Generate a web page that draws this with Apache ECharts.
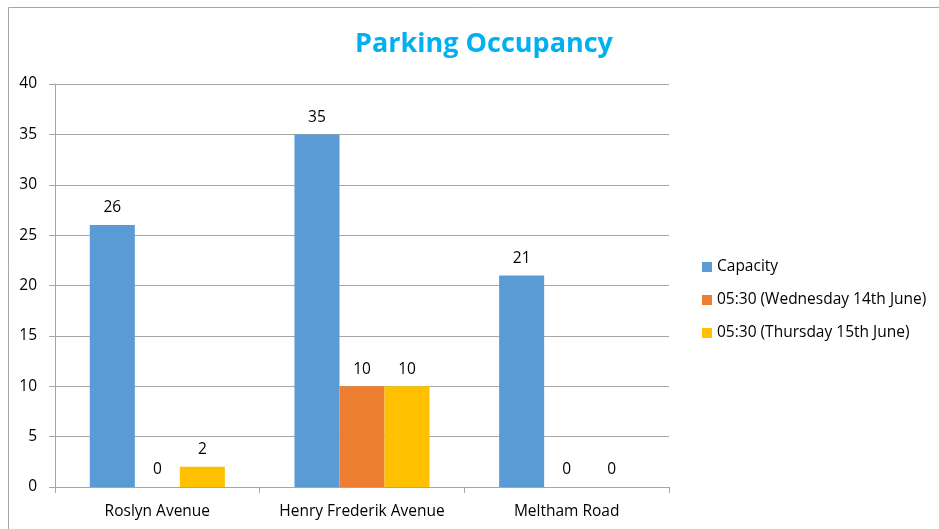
<!DOCTYPE html>
<html>
<head>
<meta charset="utf-8">
<script src="https://cdn.jsdelivr.net/npm/echarts@6/dist/echarts.min.js"></script>
<style>
  html, body { margin: 0; padding: 0; background: #fff; }
  #chart { width: 939px; height: 529px; }
</style>
</head>
<body>
<div id="chart"></div>
<script>
// Parking occupancy by street
const categories = ['Roslyn Avenue', 'Henry Frederik Avenue', 'Meltham Road'];
const seriesNames = ['Capacity', '05:30 (Wednesday 14th June)', '05:30 (Thursday 15th June)'];
const capacity = [26, 35, 21];
const wednesday = [0, 10, 0];
const thursday = [2, 10, 0];
const colors = ['#5b9bd5', '#ed7d31', '#ffc000'];

const font = '"Open Sans", "Noto Sans", sans-serif';
const values = [capacity, wednesday, thursday];

const chart = echarts.init(document.getElementById('chart'));
chart.setOption({
  animation: false,
  textStyle: { fontFamily: font },
  title: {
    text: 'Parking Occupancy',
    left: 479, top: 26, textAlign: 'center',
    textStyle: { color: '#00b0f0', fontSize: 27, fontWeight: 'bold', fontFamily: font }
  },
  graphic: [{
    type: 'rect', silent: true,
    shape: { x: 8.5, y: 7.5, width: 960, height: 560 },
    style: { fill: 'none', stroke: '#a6a6a6', lineWidth: 1 }
  }],
  legend: {
    orient: 'vertical',
    left: 697, top: 253,
    itemWidth: 10, itemHeight: 10, itemGap: 15,
    icon: 'rect',
    textStyle: { fontSize: 15.5, color: '#000', fontFamily: font, lineHeight: 18 }
  },
  grid: { left: 55, right: 270, top: 84, bottom: 42 },
  xAxis: {
    type: 'category',
    data: categories,
    axisLine: { lineStyle: { color: '#a6a6a6' } },
    axisTick: { show: true, length: 6, lineStyle: { color: '#a6a6a6' } },
    axisLabel: { color: '#000', fontSize: 15.5, margin: 17, interval: 0, hideOverlap: false, fontFamily: font }
  },
  yAxis: {
    type: 'value',
    min: 0, max: 40, interval: 5,
    axisLine: { show: true, lineStyle: { color: '#a6a6a6' } },
    axisTick: { show: true, length: 6, lineStyle: { color: '#a6a6a6' } },
    axisLabel: { color: '#000', fontSize: 15.5, margin: 18, fontFamily: font },
    splitLine: { lineStyle: { color: '#a6a6a6' } }
  },
  series: seriesNames.map((name, i) => ({
    name: name,
    type: 'bar',
    data: values[i],
    barGap: '0%',
    barCategoryGap: '34%',
    itemStyle: { color: colors[i] },
    label: {
      show: true, position: 'top', distance: 9,
      color: '#000', fontSize: 15.5, fontFamily: font
    }
  }))
});
</script>
</body>
</html>
